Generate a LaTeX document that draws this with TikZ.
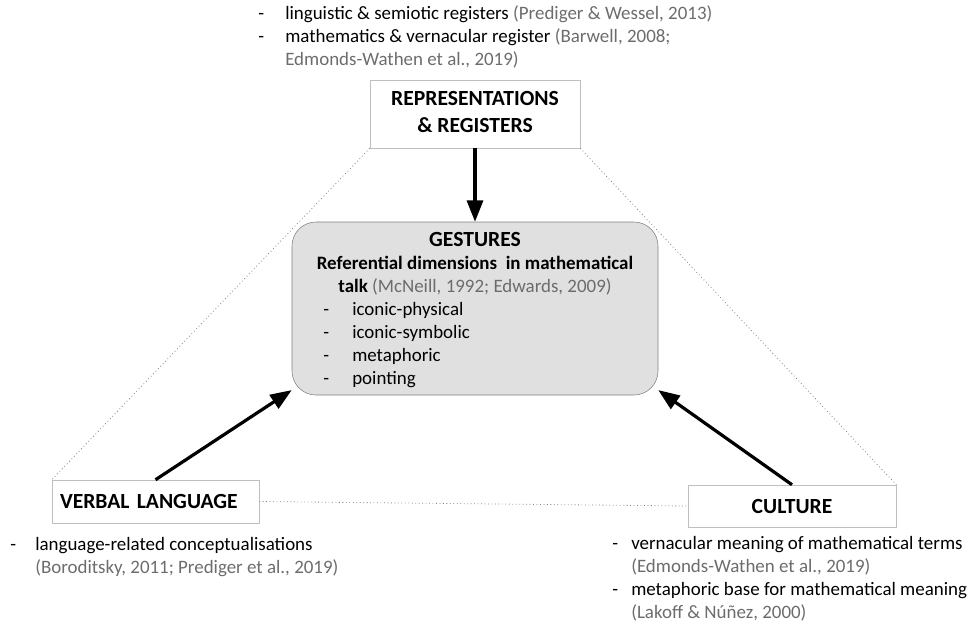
\documentclass[tikz,border=0pt]{standalone}
\usepackage{fontspec}
\setmainfont{Carlito}
\usetikzlibrary{arrows.meta}
\definecolor{citegray}{RGB}{108,108,108}
\newcommand{\cit}[1]{{\color{citegray}#1}}
\newcommand{\bodysize}{\fontsize{14.2}{17.25}\selectfont}
\newcommand{\titlesize}{\fontsize{16.2}{19}\selectfont}

\begin{document}
\begin{tikzpicture}[
  x=0.75pt, y=-0.75pt,
  plainbox/.style={draw=black!25, fill=white, font=\titlesize\bfseries, inner sep=0pt},
  gestbox/.style={draw=black!50, fill=black!12, rounded corners=18pt,
    minimum width=274.5pt, minimum height=129.75pt},
  reflist/.style={font=\bodysize, inner sep=0pt, anchor=base west},
  arrow/.style={-{Triangle[width=12pt,length=16pt]}, line width=2.4pt},
  dotline/.style={dotted, draw=black!50, line width=0.6pt}]
  \useasboundingbox (0,0) rectangle (970,626);
  % Top: representations and registers
  \node[reflist] (replist) at (258,19) {\begin{tabular}[t]{@{}p{20.25pt}@{}l@{}}
    - & linguistic \& semiotic registers \cit{(Prediger \& Wessel, 2013)}\\
    - & mathematics \& vernacular register \cit{(Barwell, 2008;}\\
      & \cit{Edmonds-Wathen et al., 2019)}\end{tabular}};
  \node[plainbox, minimum width=157.5pt, minimum height=51pt] (rep) at (475,114)
    {\begin{tabular}{@{}c@{}}REPRESENTATIONS\\[1pt] \& REGISTERS\end{tabular}};
  % Centre: gestures
  \node[gestbox] (gest) at (475,308.5) {};
  \node[font=\bodysize\bfseries, inner sep=0pt, anchor=base] (gesttitle) at (475,246)
    {\begin{tabular}[t]{@{}c@{}}{\titlesize GESTURES}\\
      Referential dimensions\ \ in mathematical\\
      talk \mdseries\cit{(McNeill, 1992; Edwards, 2009)}\end{tabular}};
  \node[reflist] (gestlist) at (323,315) {\begin{tabular}[t]{@{}p{21.75pt}@{}l@{}}
    - & iconic-physical\\
    - & iconic-symbolic\\
    - & metaphoric\\
    - & pointing\end{tabular}};
  % Bottom left: verbal language
  \node[plainbox, minimum width=155.25pt, minimum height=32.25pt, text width=143.25pt,
    inner xsep=6pt, align=left] (verbal) at (155.5,501.5) {VERBAL LANGUAGE};
  \node[reflist] (verblist) at (10,550) {\begin{tabular}[t]{@{}p{18.75pt}@{}l@{}}
    - & language-related conceptualisations\\
      & \cit{(Boroditsky, 2011; Prediger et al., 2019)}\end{tabular}};
  % Bottom right: culture
  \node[plainbox, minimum width=156pt, minimum height=31.5pt] (culture) at (792,506) {CULTURE};
  \node[reflist] (cultlist) at (612,549) {\begin{tabular}[t]{@{}p{14.25pt}@{}l@{}}
    - & vernacular meaning of mathematical terms\\
      & \cit{(Edmonds-Wathen et al., 2019)}\\
    - & metaphoric base for mathematical meaning\\
      & \cit{(Lakoff \& Núñez, 2000)}\end{tabular}};
  % Connectors
  \draw[dotline] (rep.south west) -- (verbal.north west);
  \draw[dotline] (rep.south east) -- (culture.north east);
  \draw[dotline] (verbal.east) -- (culture.west);
  \draw[arrow] (rep.south) -- (gest.north);
  \draw[arrow] (verbal.north) -- (gest.204);
  \draw[arrow] (culture.north) -- (gest.336);
\end{tikzpicture}
\end{document}
